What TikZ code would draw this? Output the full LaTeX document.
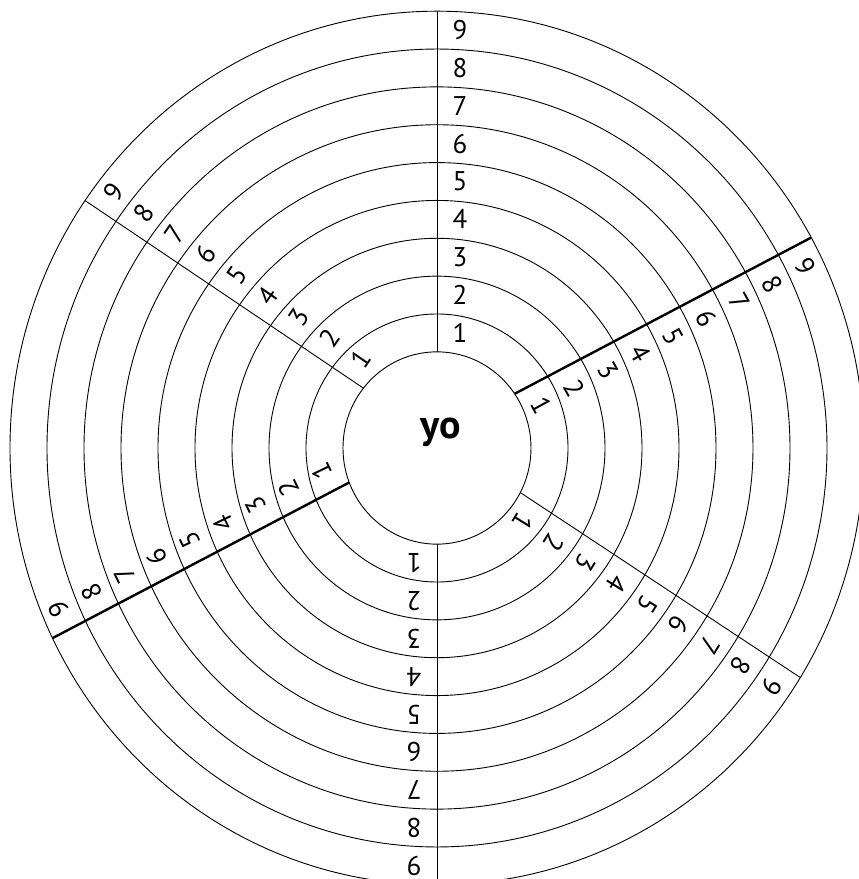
\documentclass[tikz,border=0pt]{standalone}
\usepackage{fontspec}
\setmainfont{PT Sans}
\usepackage{tikz}
\usetikzlibrary{calc}

\begin{document}
\begin{tikzpicture}[
  x=1pt, y=1.023pt,
  ring/.style={draw=black, line width=0.9pt},
  spoke/.style={draw=black, line width=0.9pt},
  heavy/.style={draw=black, line width=2.4pt},
  num/.style={font=\fontsize{27}{31}\selectfont, inner sep=0pt},
  hub/.style={font=\fontsize{40}{44}\selectfont\bfseries, inner sep=0pt}
]
  \useasboundingbox (-437pt,-431pt) rectangle (422pt,448pt);
  \clip (-437pt,-431pt) rectangle (422pt,448pt);

  % Rings
  \foreach \k in {0,...,9}
    \draw[ring] (0,0) circle[radius=94+37*\k];

  % Centre
  \node (yo) [hub, anchor=base] at (4,8.8) {yo};

  % Spokes and numbers
  \foreach \s/\a/\b/\w in {up/90/90/spoke, ne/34.3/28.8/heavy, nw/141.5/145.5/spoke,
                           sw/201/205.8/heavy, se/-27.6/-31.7/spoke, dn/270/270/spoke}{
    \coordinate (\s-in) at (\a:94);
    \coordinate (\s-out) at (\b:427);
    \draw[\w] (\s-in) -- (\s-out);
    \foreach \k in {1,...,9}{
      \coordinate (\s-m\k) at ($(\s-in)!{(\k-0.5)/9}!(\s-out)$);
      \node (\s-\k) [num, rotate=\b-90] at ($(\s-m\k)!23pt!-90:(\s-out)$) {\k};
    }
  }
\end{tikzpicture}
\end{document}
